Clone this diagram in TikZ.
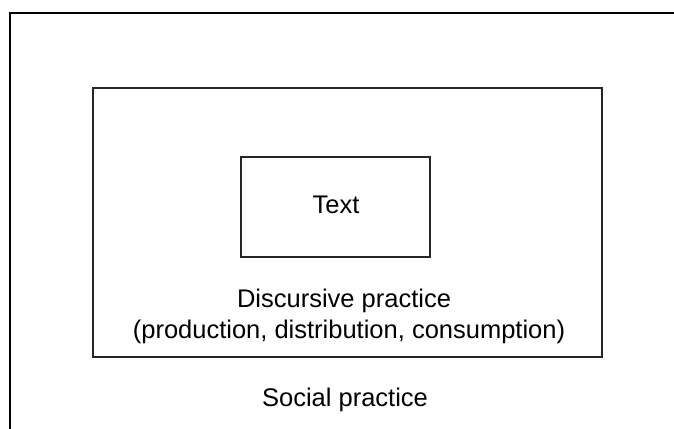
\documentclass[tikz,border=0pt]{standalone}
\usepackage{fontspec}
\setmainfont{Liberation Sans}
\usetikzlibrary{positioning}
\begin{document}
\begin{tikzpicture}[x=1pt,y=-1pt]
\tikzstyle{every node}+=[inner sep=0pt]
\tikzstyle{box}=[draw=black!85, line width=1.1pt, rectangle]
\tikzstyle{lbl}=[font=\fontsize{25.5}{31}\selectfont, anchor=base]
\useasboundingbox (0,0) rectangle (674,428);
\clip (0,0) rectangle (674,428);
% outer frame runs off the page
\node [draw=black, line width=1.6pt, minimum width=700pt, minimum height=450pt, anchor=north west] (social) at (9,12) {};
\node [box, minimum width=509pt, minimum height=269pt] (discursive) at (347.5,222.5) {};
\node [box, minimum width=189pt, minimum height=100pt] (text) at (335.5,207) {};
% labels
\node [lbl] (textlbl) at (336,213) {Text};
\node [lbl] (disclbl) at (344,307) {Discursive practice};
\node [lbl] (proclbl) at (349,338) {(production, distribution, consumption)};
\node [lbl] (soclbl) at (345,406) {Social practice};
\end{tikzpicture}
\end{document}
